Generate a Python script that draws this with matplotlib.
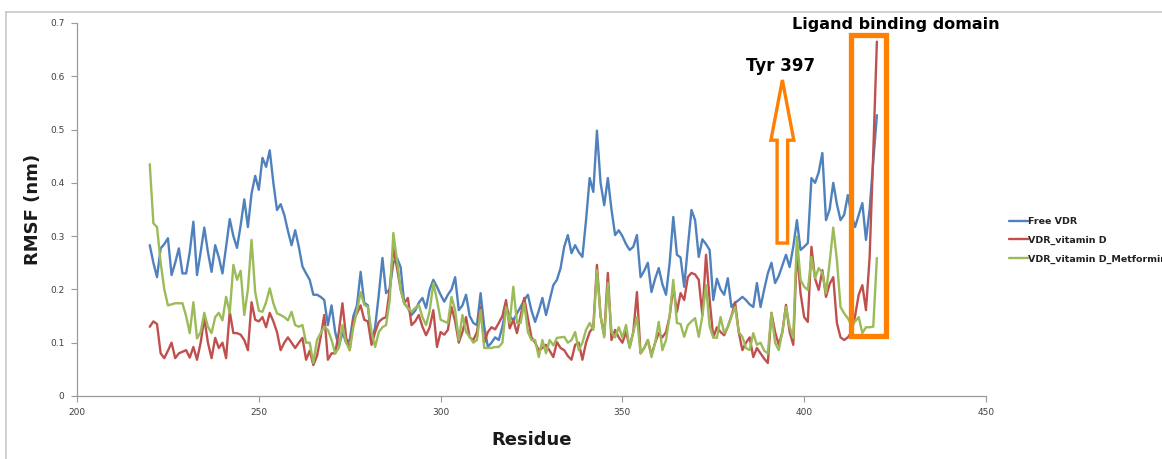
import numpy as np
import matplotlib.pyplot as plt
from matplotlib.patches import Rectangle, FancyArrow
from matplotlib.lines import Line2D

# RMSF per residue (nm)
residue = np.arange(220, 421)

free_vdr = [
    .283, .25, .223, .277, .285, .296, .227, .25, .277, .23,
    .23, .27, .327, .227, .27, .316, .27, .233, .283, .26,
    .23, .28, .332, .3, .278, .32, .369, .317, .38, .413,
    .387, .447, .43, .461, .4, .349, .36, .34, .31, .283,
    .311, .28, .243, .23, .218, .19, .19, .186, .18, .133,
    .17, .12, .092, .12, .1, .105, .15, .17, .233, .175,
    .17, .1, .13, .19, .259, .193, .2, .25, .259, .242,
    .174, .165, .152, .16, .175, .184, .165, .2, .218, .205,
    .19, .177, .19, .2, .223, .161, .17, .19, .15, .137,
    .133, .193, .13, .092, .1, .11, .105, .13, .167, .15,
    .142, .155, .167, .18, .19, .16, .139, .16, .184, .152,
    .18, .208, .218, .24, .28, .302, .268, .283, .27, .261,
    .33, .409, .383, .498, .4, .358, .409, .35, .302, .311,
    .3, .285, .274, .28, .302, .223, .235, .25, .195, .22,
    .24, .21, .19, .25, .336, .265, .26, .205, .28, .349,
    .33, .261, .294, .285, .274, .18, .22, .2, .19, .221,
    .167, .175, .18, .186, .18, .172, .167, .212, .167, .2,
    .23, .25, .212, .225, .245, .265, .242, .28, .33, .274,
    .28, .287, .409, .4, .42, .456, .33, .35, .4, .36,
    .33, .34, .377, .34, .317, .34, .362, .293, .35, .44,
    .527,
]

vdr_vitd = [
    .13, .14, .135, .08, .071, .085, .1, .071, .08, .083,
    .086, .072, .092, .068, .1, .146, .1, .071, .109, .09,
    .1, .071, .158, .118, .118, .115, .105, .086, .176, .143,
    .14, .148, .129, .156, .14, .12, .086, .1, .11, .1,
    .09, .1, .109, .068, .085, .058, .075, .11, .152, .068,
    .08, .08, .12, .174, .11, .086, .143, .155, .17, .143,
    .14, .096, .12, .139, .145, .148, .2, .278, .24, .2,
    .174, .184, .133, .14, .152, .13, .114, .129, .161, .092,
    .12, .115, .124, .167, .14, .1, .12, .148, .11, .105,
    .12, .167, .1, .12, .129, .125, .137, .15, .18, .127,
    .143, .118, .15, .184, .146, .11, .1, .086, .09, .096,
    .085, .073, .101, .09, .086, .075, .068, .096, .1, .068,
    .1, .12, .129, .246, .15, .114, .231, .105, .124, .11,
    .1, .12, .092, .12, .195, .08, .09, .105, .077, .1,
    .118, .11, .12, .15, .205, .158, .193, .18, .223, .231,
    .228, .218, .152, .265, .18, .11, .129, .12, .114, .13,
    .15, .176, .12, .086, .1, .11, .073, .09, .08, .07,
    .062, .156, .12, .096, .12, .171, .12, .096, .274, .193,
    .148, .139, .28, .22, .199, .236, .186, .21, .223, .137,
    .11, .105, .11, .12, .15, .19, .208, .161, .26, .456,
    .665,
]

vdr_vitd_met = [
    .435, .324, .317, .25, .2, .17, .172, .174, .174, .174,
    .15, .118, .176, .108, .12, .156, .13, .118, .148, .156,
    .142, .186, .156, .246, .218, .235, .152, .2, .293, .195,
    .16, .158, .176, .202, .174, .155, .152, .148, .142, .158,
    .133, .13, .133, .1, .1, .062, .105, .118, .13, .124,
    .105, .08, .09, .133, .1, .086, .129, .16, .195, .171,
    .167, .12, .092, .12, .129, .133, .18, .306, .255, .2,
    .174, .165, .158, .165, .171, .148, .133, .16, .212, .18,
    .143, .14, .137, .186, .161, .105, .152, .12, .111, .1,
    .105, .161, .09, .09, .09, .092, .092, .1, .167, .137,
    .205, .137, .137, .174, .12, .105, .105, .073, .105, .08,
    .105, .095, .109, .11, .111, .1, .105, .12, .086, .1,
    .124, .137, .124, .236, .15, .11, .212, .12, .11, .129,
    .11, .133, .09, .12, .148, .08, .09, .105, .073, .1,
    .139, .086, .105, .15, .218, .137, .135, .111, .133, .14,
    .146, .111, .15, .208, .13, .11, .109, .148, .118, .13,
    .15, .167, .12, .111, .09, .086, .118, .096, .1, .085,
    .08, .156, .1, .086, .12, .167, .13, .109, .299, .218,
    .205, .199, .261, .221, .24, .231, .193, .25, .316, .255,
    .167, .155, .146, .133, .14, .148, .118, .129, .129, .13,
    .259,
]

series_names = ["Free VDR", "VDR_vitamin D", "VDR_vitamin D_Metformin"]
series_colors = ["#4F81BD", "#C0504D", "#9BBB59"]

fig = plt.figure(figsize=(11.62, 4.59), dpi=100)
ax = fig.add_axes([0.0663, 0.1373, 0.7822, 0.8126])

for vals, name, col in zip([free_vdr, vdr_vitd, vdr_vitd_met], series_names, series_colors):
    ax.plot(residue, vals, color=col, lw=1.7, label=name,
            solid_joinstyle="round", solid_capstyle="round")

ax.set_xlim(200, 450)
ax.set_ylim(0, 0.7)
ax.set_xticks([200, 250, 300, 350, 400, 450])
ax.set_yticks(np.arange(0, 0.71, 0.1))
ax.set_yticklabels(["0", "0.1", "0.2", "0.3", "0.4", "0.5", "0.6", "0.7"])
ax.tick_params(direction="out", length=4, width=0.8, color="#9a9a9a",
               labelsize=6.5, labelcolor="#404040", pad=5)
for side in ("top", "right"):
    ax.spines[side].set_visible(False)
for side in ("left", "bottom"):
    ax.spines[side].set_color("#9a9a9a")
    ax.spines[side].set_linewidth(0.9)

ax.set_ylabel("RMSF (nm)", fontsize=13, fontweight="bold", color="#1a1a1a", labelpad=6)
ax.set_xlabel("Residue", fontsize=13, fontweight="bold", color="#1a1a1a", labelpad=10)

leg = fig.legend(loc="upper left", bbox_to_anchor=(0.861, 0.545), frameon=False,
                 fontsize=6.8, handlelength=2.0, handletextpad=0.05, labelspacing=1.0)
for txt in leg.get_texts():
    txt.set_fontweight("bold")
    txt.set_color("#222222")

# orange hollow arrow pointing at Tyr 397
arrow = FancyArrow(394, 0.287, 0, 0.306, width=2.9, head_width=6.3,
                   head_length=0.113, length_includes_head=True,
                   facecolor="none", edgecolor="#FF8000", lw=2.4, clip_on=False)
ax.add_patch(arrow)
ax.text(393.4, 0.62, "Tyr 397", fontsize=12, fontweight="bold", ha="center", va="center")

# ligand binding domain box
ax.add_patch(Rectangle((412.9, 0.1126), 9.6, 0.5644, fill=False,
                       edgecolor="#FF8000", lw=3.8, clip_on=False, zorder=5))
fig.text(0.771, 0.947, "Ligand binding domain", fontsize=11.5, fontweight="bold",
         ha="center", va="center")

# chart area border
fig.add_artist(Line2D([6 / 1162, 1.0], [1 - 12 / 459] * 2, color="#c8c8c8", lw=1.2))
fig.add_artist(Line2D([6 / 1162] * 2, [0, 1 - 12 / 459], color="#c8c8c8", lw=1.2))

fig.savefig("out.png", dpi=100)
